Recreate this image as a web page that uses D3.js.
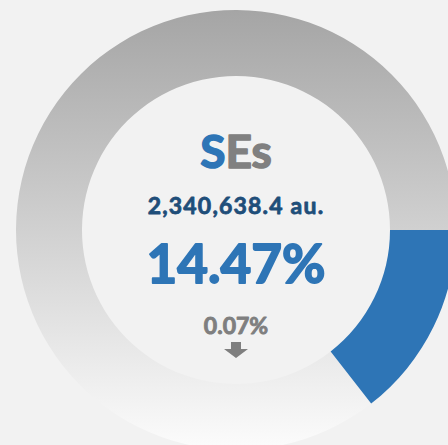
<!DOCTYPE html>
<html>
<head>
<meta charset="utf-8">
<script src="https://cdn.jsdelivr.net/npm/d3@7"></script>
<style>
  html, body { margin: 0; padding: 0; background: #f2f2f2; }
  svg { display: block; }
  text { font-family: Lato, "Open Sans", sans-serif; font-weight: 700; stroke-linejoin: round; }
</style>
</head>
<body>
<svg id="chart"></svg>
<script>
// data
const categories = ['SEs', 'Other']
const shareValues = [14.47, 85.53]
const amountLabel = '2,340,638.4 au.'
const changeLabel = '0.07%'
const changeDirection = 'down'

const width = 448, height = 445
const cx = 236, cy = 230
const outerR = 220, innerR = 154

const svg = d3.select('#chart')
  .attr('width', width)
  .attr('height', height)

// gray ring gradient, top -> bottom (coords are in the centred group)
const defs = svg.append('defs')
const grad = defs.append('linearGradient')
  .attr('id', 'ringGrad')
  .attr('gradientUnits', 'userSpaceOnUse')
  .attr('x1', 0).attr('y1', -outerR)
  .attr('x2', 0).attr('y2', outerR)
grad.append('stop').attr('offset', '0%').attr('stop-color', '#a5a5a5')
grad.append('stop').attr('offset', '100%').attr('stop-color', '#fcfcfc')

const g = svg.append('g')
  .attr('transform', `translate(${cx},${cy})`)

const pie = d3.pie()
  .sort(null)
  .startAngle(Math.PI / 2)
  .endAngle(Math.PI / 2 + 2 * Math.PI)
  .value(d => d.value)

const arc = d3.arc().innerRadius(innerR).outerRadius(outerR)
const color = d3.scaleOrdinal().domain(categories).range(['#2e75b6', 'url(#ringGrad)'])

const data = categories.map((c, i) => ({ key: c, value: shareValues[i] }))

// gray first so the blue sits on top
g.selectAll('path.slice')
  .data(pie(data).reverse())
  .enter().append('path')
  .attr('class', 'slice')
  .attr('d', arc)
  .attr('fill', d => color(d.data.key))

// center labels (thin stroke to get the heavy look)
const title = g.append('text')
  .attr('text-anchor', 'middle')
  .attr('y', -62)
  .attr('font-size', 46)
  .attr('stroke-width', 1.6)
title.append('tspan').attr('fill', '#2e75b6').attr('stroke', '#2e75b6').text(categories[0].slice(0, 1))
title.append('tspan').attr('fill', '#808080').attr('stroke', '#808080').text(categories[0].slice(1))

g.append('text')
  .attr('text-anchor', 'middle')
  .attr('y', -16)
  .attr('font-size', 23)
  .attr('letter-spacing', 1.2)
  .attr('fill', '#1f4e79')
  .attr('stroke', '#1f4e79')
  .attr('stroke-width', 0.8)
  .text(amountLabel)

g.append('text')
  .attr('text-anchor', 'middle')
  .attr('y', 53)
  .attr('font-size', 53)
  .attr('fill', '#2e75b6')
  .attr('stroke', '#2e75b6')
  .attr('stroke-width', 1.8)
  .text(d3.format('.2f')(shareValues[0]) + '%')

g.append('text')
  .attr('text-anchor', 'middle')
  .attr('y', 104)
  .attr('font-size', 23)
  .attr('fill', '#7f7f7f')
  .attr('stroke', '#7f7f7f')
  .attr('stroke-width', 0.9)
  .text(changeLabel)

// arrow
const ay = 112
const dir = changeDirection === 'down' ? 1 : -1
g.append('path')
  .attr('fill', '#7f7f7f')
  .attr('d', d3.line()([
    [-5, ay], [5, ay], [5, ay + 7 * dir], [12, ay + 7 * dir],
    [0, ay + 16 * dir], [-12, ay + 7 * dir], [-5, ay + 7 * dir]
  ]) + 'Z')
</script>
</body>
</html>
